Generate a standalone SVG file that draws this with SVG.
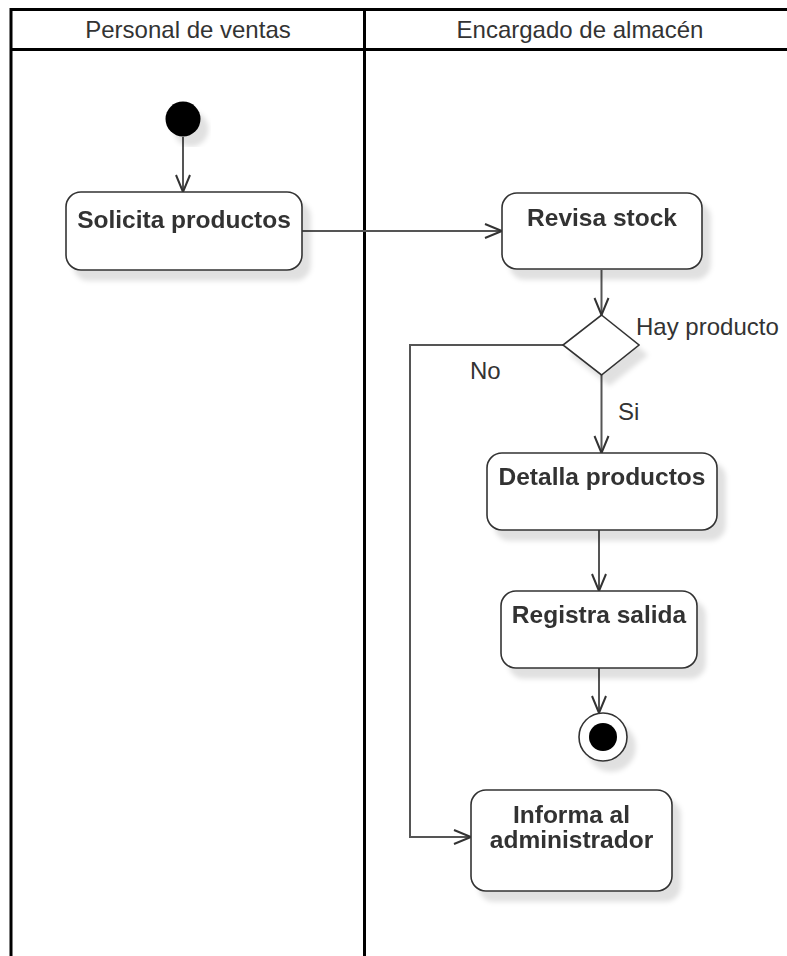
<svg xmlns="http://www.w3.org/2000/svg" width="787" height="956" viewBox="0 0 787 956">
  <style>
    .lane { stroke: #000; stroke-width: 3; fill: none; }
    .hdr { font-family: "Liberation Sans", Arial, sans-serif; font-size: 24px; fill: #333; text-anchor: middle; }
    .act { fill: #fff; stroke: #333; stroke-width: 1.6; }
    .lbl { font-family: "Liberation Sans", Arial, sans-serif; font-size: 24.5px; font-weight: bold; fill: #333; text-anchor: middle; }
    .guard { font-family: "Liberation Sans", Arial, sans-serif; font-size: 24px; fill: #333; }
    .edge { stroke: #555; stroke-width: 2; fill: none; }
  </style>
  <defs>
    <filter id="shadow" x="-20%" y="-20%" width="150%" height="150%">
      <feOffset in="SourceAlpha" dx="8" dy="10" result="off"/>
      <feGaussianBlur in="off" stdDeviation="2.5" result="blur"/>
      <feFlood flood-color="#000" flood-opacity="0.12"/>
      <feComposite in2="blur" operator="in" result="sh"/>
      <feMerge>
        <feMergeNode in="sh"/>
        <feMergeNode in="SourceGraphic"/>
      </feMerge>
    </filter>
    <marker id="open" markerWidth="20" markerHeight="18" refX="18" refY="8" orient="auto" markerUnits="userSpaceOnUse">
      <path d="M1,1 L18,8 L1,15" fill="none" stroke="#333" stroke-width="2"/>
    </marker>
  </defs>

  <rect width="787" height="956" fill="#fff"/>

  <!-- swimlanes -->
  <g id="lanes">
    <line class="lane" x1="11" y1="9.5" x2="787" y2="9.5"/>
    <line class="lane" x1="11" y1="49.5" x2="787" y2="49.5"/>
    <line class="lane" x1="11" y1="8" x2="11" y2="956"/>
    <line class="lane" x1="364.5" y1="8" x2="364.5" y2="956"/>
    <text class="hdr" x="188" y="38">Personal de ventas</text>
    <text class="hdr" x="580" y="38">Encargado de almacén</text>
  </g>

  <!-- connectors -->
  <g id="connectors">
    <line class="edge" x1="183" y1="137" x2="183" y2="192" marker-end="url(#open)"/>
    <line class="edge" x1="302" y1="231" x2="502" y2="231" marker-end="url(#open)"/>
    <line class="edge" x1="601.5" y1="270" x2="601.5" y2="315" marker-end="url(#open)"/>
    <polyline class="edge" points="563,345 410,345 410,837 471,837" marker-end="url(#open)"/>
    <line class="edge" x1="601.5" y1="375" x2="601.5" y2="453" marker-end="url(#open)"/>
    <line class="edge" x1="599" y1="530" x2="599" y2="591" marker-end="url(#open)"/>
    <line class="edge" x1="599" y1="668" x2="599" y2="713" marker-end="url(#open)"/>
    <text class="guard" x="636" y="335">Hay producto</text>
    <text class="guard" x="470" y="379">No</text>
    <text class="guard" x="618" y="420">Si</text>
  </g>

  <g id="start" filter="url(#shadow)">
    <circle cx="183" cy="119" r="17.5" fill="#000"/>
  </g>

  <g id="solicita" filter="url(#shadow)">
    <rect class="act" x="66" y="192" width="236" height="78" rx="15"/>
    <text class="lbl" x="184" y="228">Solicita productos</text>
  </g>

  <g id="revisa" filter="url(#shadow)">
    <rect class="act" x="502" y="193" width="200" height="76" rx="15"/>
    <text class="lbl" x="602" y="226">Revisa stock</text>
  </g>

  <g id="decision" filter="url(#shadow)">
    <polygon points="601.5,315 639,345 601.5,375 563,345" fill="#fff" stroke="#333" stroke-width="1.6"/>
  </g>

  <g id="detalla" filter="url(#shadow)">
    <rect class="act" x="487" y="453" width="230" height="77" rx="15"/>
    <text class="lbl" x="602" y="485">Detalla productos</text>
  </g>

  <g id="registra" filter="url(#shadow)">
    <rect class="act" x="501" y="591" width="196" height="77" rx="15"/>
    <text class="lbl" x="599" y="623">Registra salida</text>
  </g>

  <g id="final" filter="url(#shadow)">
    <circle cx="603" cy="737" r="24" fill="#fff" stroke="#333" stroke-width="1.6"/>
    <circle cx="603" cy="737" r="14" fill="#000"/>
  </g>

  <g id="informa" filter="url(#shadow)">
    <rect class="act" x="471" y="790" width="201" height="101" rx="15"/>
    <text class="lbl" x="571.5" y="823">Informa al</text>
    <text class="lbl" x="571.5" y="848">administrador</text>
  </g>
</svg>
